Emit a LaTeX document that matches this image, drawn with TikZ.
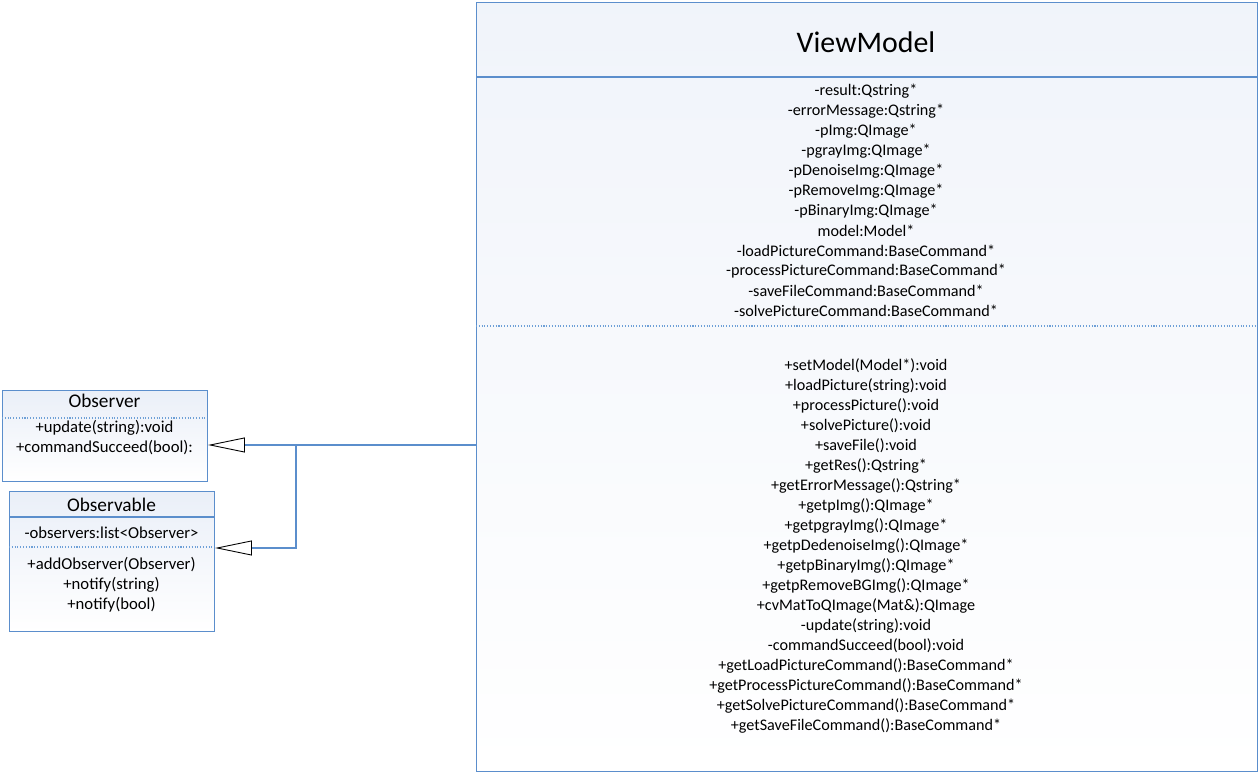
\documentclass[tikz,border=0pt]{standalone}
\usepackage{fontspec}
\setmainfont{Carlito}
\usetikzlibrary{arrows.meta,positioning,calc}
\definecolor{umlblue}{RGB}{91,142,204}
\definecolor{umldot}{RGB}{110,160,215}
\definecolor{umlfill}{RGB}{234,239,248}

\tikzset{
  classbox/.style={draw=umlblue,line width=0.6pt,rectangle,anchor=north west,inner sep=0pt,top color=umlfill,bottom color=white},
  member/.style={font=\fontsize{9.2}{11}\selectfont,inner sep=0pt},
  sidemember/.style={font=\fontsize{9.5}{11}\selectfont,inner sep=0pt},
  sep/.style={umldot,densely dotted,line width=0.6pt},
  rule/.style={umlblue,line width=0.6pt},
  gen/.style={umlblue,line width=0.6pt,-{Triangle[open,length=21pt,width=8.5pt,color=black,line width=0.5pt]}}
}

\begin{document}
\begin{tikzpicture}[x=0.02cm,y=-0.02cm]
    \useasboundingbox (0,0) rectangle (1259,773);
    % Classes
    \node[classbox,top color=umlfill!70!white,minimum width=15.62cm,minimum height=15.38cm] (vm) at (476,2) {};
    \node[classbox,minimum width=4.1cm,minimum height=1.82cm] (observer) at (2,390) {};
    \node[classbox,minimum width=4.1cm,minimum height=2.8cm] (observable) at (9,491) {};
    % Compartments
    \draw[rule] (476,77) -- (1257,77);
    \draw[sep] (476,326) -- (1257,326);
    \draw[sep] (2,418) -- (207,418);
    \draw[rule] (9,517) -- (214,517);
    \draw[sep] (9,547) -- (214,547);
    % ViewModel
    \node[font=\fontsize{17}{20}\selectfont] (vmtitle) at (866,42) {ViewModel};
    \foreach \txt [count=\i from 0] in {-result:Qstring*,-errorMessage:Qstring*,-pImg:QImage*,
        -pgrayImg:QImage*,-pDenoiseImg:QImage*,-pRemoveImg:QImage*,-pBinaryImg:QImage*,
        model:Model*,-loadPictureCommand:BaseCommand*,-processPictureCommand:BaseCommand*,
        -saveFileCommand:BaseCommand*,-solvePictureCommand:BaseCommand*}
      \node[member] (vma\i) at (866,{91+20*\i}) {\txt};
    \foreach \txt [count=\i from 0] in {+setModel(Model*):void,+loadPicture(string):void,
        +processPicture():void,+solvePicture():void,+saveFile():void,+getRes():Qstring*,
        +getErrorMessage():Qstring*,+getpImg():QImage*,+getpgrayImg():QImage*,
        +getpDedenoiseImg():QImage*,+getpBinaryImg():QImage*,+getpRemoveBGImg():QImage*,
        +cvMatToQImage(Mat\&):QImage,-update(string):void,-commandSucceed(bool):void,
        +getLoadPictureCommand():BaseCommand*,+getProcessPictureCommand():BaseCommand*,
        +getSolvePictureCommand():BaseCommand*,+getSaveFileCommand():BaseCommand*}
      \node[member] (vmm\i) at (866,{366+20*\i}) {\txt};
    % Observer
    \node[font=\fontsize{11}{13}\selectfont] (obstitle) at (104.5,401) {Observer};
    \node[sidemember] (obsm0) at (104.5,428) {+update(string):void};
    \node[sidemember] (obsm1) at (104.5,448) {+commandSucceed(bool):};
    % Observable
    \node[font=\fontsize{11}{13}\selectfont] (oblitle) at (111.5,505) {Observable};
    \node[sidemember] (obla0) at (111.5,533) {-observers:list<Observer>};
    \node[sidemember] (oblm0) at (111.5,565) {+addObserver(Observer)};
    \node[sidemember] (oblm1) at (111.5,585) {+notify(string)};
    \node[sidemember] (oblm2) at (111.5,605) {+notify(bool)};
    % Generalisation
    \coordinate (join) at (296,445);
    \coordinate (knee) at (296,548);
    \draw[gen] (vm.west |- join) -- (observer.east |- join);
    \draw[gen] (join) -- (knee) -- (observable.east |- knee);
\end{tikzpicture}
\end{document}
